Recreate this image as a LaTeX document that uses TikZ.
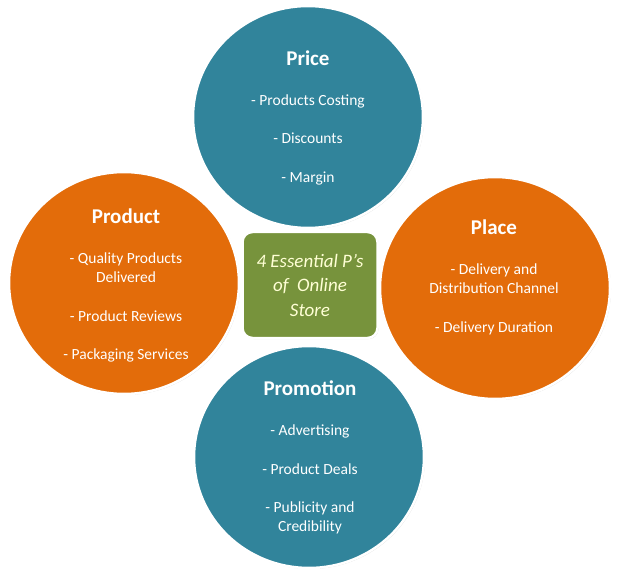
\documentclass[tikz,border=0pt]{standalone}
\usepackage{fontspec}
\setmainfont{Carlito}
\usetikzlibrary{shapes.geometric,shadows}
\definecolor{priceblue}{HTML}{31849B}
\definecolor{placeorange}{HTML}{E36C0A}
\definecolor{storegreen}{HTML}{77933C}
\definecolor{storetext}{HTML}{FFFFD5}

\begin{document}
\begin{tikzpicture}[x=1pt, y=-1pt,
  every node/.style={inner sep=0pt},
  ball/.style={ellipse, minimum width=230pt, minimum height=222pt, draw=white, line width=2.5pt,
    drop shadow={opacity=0.3, shadow xshift=1pt, shadow yshift=-1pt}},
  words/.style={anchor=north, align=center, text=white, font=\fontsize{15.5}{19}\selectfont}]
\useasboundingbox[fill=white] (0,0) rectangle (621,577);
% KAMUOLIAI
\node[ball, fill=priceblue] (price) at (308,117) {};
\node[ball, fill=placeorange] (product) at (124,283) {};
\node[ball, fill=placeorange] (place) at (495,288) {};
\node[ball, fill=priceblue] (promotion) at (309,457) {};
% VIDURYS
\node[rectangle, rounded corners=10pt, minimum width=135pt, minimum height=106pt,
  fill=storegreen, draw=white, line width=2.5pt,
  drop shadow={opacity=0.3, shadow xshift=1pt, shadow yshift=-1pt},
  text=storetext, align=center, font=\fontsize{19}{24.5}\selectfont\itshape]
  (store) at (310,285) {4 Essential P’s\\of~~Online\\Store};
% TEKSTAI
\node[words] (pricetext) at (308,50.5)
  {{\fontsize{21}{19}\selectfont\bfseries Price}\\[21pt]- Products Costing\\[19.5pt]- Discounts\\[19.5pt]- Margin};
\node[words] (producttext) at (126,209)
  {{\fontsize{21}{19}\selectfont\bfseries Product}\\[21pt]- Quality Products\\Delivered\\[19.5pt]- Product Reviews\\[19.5pt]- Packaging Services};
\node[words] (placetext) at (494,220)
  {{\fontsize{21}{19}\selectfont\bfseries Place}\\[21pt]- Delivery and\\Distribution Channel\\[19.5pt]- Delivery Duration};
\node[words] (promotiontext) at (310,381)
  {{\fontsize{21}{19}\selectfont\bfseries Promotion}\\[21pt]- Advertising\\[19.5pt]- Product Deals\\[19.5pt]- Publicity and\\Credibility};
\end{tikzpicture}
\end{document}
